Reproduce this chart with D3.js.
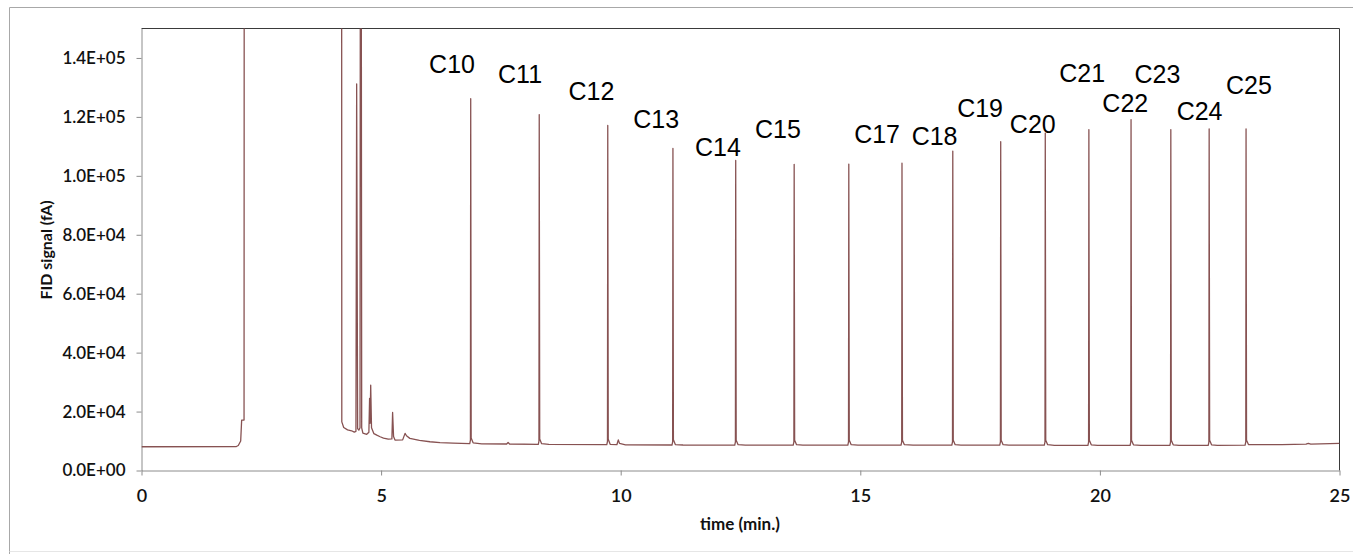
<!DOCTYPE html>
<html>
<head>
<meta charset="utf-8">
<script src="https://cdn.jsdelivr.net/npm/d3@7"></script>
<style>
  html, body { margin: 0; padding: 0; background: #fff; }
  svg { display: block; }
</style>
</head>
<body>
<svg id="chart" width="1353" height="554"></svg>
<script>
// ---------------- data ----------------
const xTicks = [0, 5, 10, 15, 20, 25];
const xTickLabels = ["0", "5", "10", "15", "20", "25"];
const yTicks = [0, 20000, 40000, 60000, 80000, 100000, 120000, 140000];
const yTickLabels = ["0.0E+00", "2.0E+04", "4.0E+04", "6.0E+04", "8.0E+04", "1.0E+05", "1.2E+05", "1.4E+05"];
const xTitle = "time (min.)";
const yTitle = "FID signal (fA)";

// chromatogram trace: [time (min), FID signal (fA)]
const chromatogram = [
  [0.00, 8060], [1.98, 8130], [2.02, 8470], [2.07, 9990], [2.09, 17100], [2.14, 17100], [2.16, 1000000],
  [4.16, 1000000], [4.18, 16500], [4.22, 14600], [4.30, 13800], [4.385, 13480], [4.44, 13040],
  [4.475, 13300], [4.49, 131200], [4.51, 14200], [4.535, 13700], [4.56, 14500], [4.575, 400000], [4.595, 14500],
  [4.62, 12700], [4.70, 12300], [4.745, 13000], [4.76, 24500], [4.77, 16000], [4.783, 29000], [4.80, 14500],
  [4.85, 12500], [4.91, 12000], [4.98, 11450], [5.05, 11000], [5.15, 10670], [5.225, 10700], [5.24, 19700],
  [5.26, 11500], [5.29, 10330], [5.45, 10400], [5.50, 12600], [5.53, 11800], [5.60, 10900], [5.80, 10200],
  [6.02, 9760], [6.23, 9490], [6.50, 9300], [6.85, 9150],
  // C10
  [6.864, 10300], [6.87, 126200], [6.88, 11000], [6.92, 9400], [7.10, 9050],
  [7.62, 9000], [7.65, 9500], [7.68, 9000], [8.28, 8900],
  // C11
  [8.294, 10000], [8.30, 120800], [8.31, 10700], [8.35, 9100], [8.50, 8850], [9.71, 8800],
  // C12
  [9.724, 9900], [9.73, 117100], [9.74, 10600], [9.78, 8900], [9.92, 8750], [9.95, 10400], [9.975, 9200],
  [10.10, 8700], [11.07, 8650],
  // C13
  [11.084, 9750], [11.09, 109300], [11.10, 10400], [11.14, 8800], [11.30, 8650], [12.38, 8600],
  // C14
  [12.394, 9700], [12.40, 105200], [12.41, 10300], [12.45, 8750], [12.60, 8600], [13.60, 8600],
  // C15
  [13.614, 9700], [13.62, 103900], [13.63, 10300], [13.67, 8750], [13.80, 8600], [14.74, 8600],
  // C16
  [14.754, 9700], [14.76, 104000], [14.77, 10300], [14.81, 8750], [14.95, 8600], [15.85, 8600],
  // C17
  [15.864, 9700], [15.87, 104300], [15.88, 10300], [15.92, 8750], [16.10, 8600], [16.91, 8600],
  // C18
  [16.924, 9700], [16.93, 108400], [16.94, 10300], [16.98, 8750], [17.10, 8600], [17.91, 8600],
  // C19
  [17.924, 9700], [17.93, 111600], [17.94, 10300], [17.98, 8750], [18.10, 8600], [18.84, 8600],
  // C20
  [18.854, 9700], [18.86, 114500], [18.87, 10300], [18.91, 8750], [19.05, 8550], [19.75, 8550],
  // C21
  [19.764, 9650], [19.77, 115700], [19.78, 10300], [19.82, 8700], [19.95, 8550], [20.63, 8550],
  // C22
  [20.644, 9650], [20.65, 119100], [20.66, 10300], [20.70, 8700], [20.85, 8550], [21.46, 8550],
  // C23
  [21.474, 9650], [21.48, 115700], [21.49, 10300], [21.53, 8700], [21.65, 8550], [22.26, 8550],
  // C24
  [22.274, 9650], [22.28, 115900], [22.29, 10300], [22.33, 8700], [22.45, 8550], [23.03, 8600],
  // C25
  [23.044, 9700], [23.05, 115900], [23.06, 10300], [23.10, 8800], [23.25, 8750], [23.80, 8800],
  [24.30, 8950], [24.35, 9200], [24.40, 8950], [25.00, 9200]
];

// peak annotations
const peakLabels = ["C10", "C11", "C12", "C13", "C14", "C15", "C17", "C18", "C19", "C20", "C21", "C22", "C23", "C24", "C25"];
const labelTimes = [6.48, 7.90, 9.39, 10.74, 12.03, 13.28, 15.35, 16.55, 17.50, 18.60, 19.63, 20.53, 21.20, 22.08, 23.11];
const labelSignals = [135000, 131600, 125900, 116400, 106900, 113000, 111300, 110300, 119800, 114700, 132000, 121800, 131600, 119100, 127900];

// ---------------- layout ----------------
const svg = d3.select("#chart");
const plot = { left: 141.5, right: 1339.5, top: 28.5, bottom: 470.5 };

const x = d3.scaleLinear().domain([0, 25]).range([plot.left, plot.right]);
const y = d3.scaleLinear().domain([0, 150000]).range([plot.bottom, plot.top]);

// outer chart-area border
svg.append("line").attr("x1", 9.5).attr("x2", 1353).attr("y1", 7.5).attr("y2", 7.5).attr("stroke", "#a8a8a8");
svg.append("line").attr("x1", 9.5).attr("x2", 9.5).attr("y1", 7.5).attr("y2", 554).attr("stroke", "#a8a8a8");
svg.append("line").attr("x1", 9.5).attr("x2", 1353).attr("y1", 551.5).attr("y2", 551.5).attr("stroke", "#e6e6e6");

// plot-area frame (top & right)
svg.append("line").attr("x1", plot.left).attr("x2", plot.right).attr("y1", plot.top).attr("y2", plot.top).attr("stroke", "#3a3a3a");
svg.append("line").attr("x1", plot.right).attr("x2", plot.right).attr("y1", plot.top).attr("y2", plot.bottom).attr("stroke", "#3a3a3a");

// clip
svg.append("defs").append("clipPath").attr("id", "clip")
  .append("rect").attr("x", plot.left).attr("y", plot.top)
  .attr("width", plot.right - plot.left).attr("height", plot.bottom - plot.top);

const tickFont = "Lato, 'Open Sans', sans-serif";

// y axis
const yAxis = svg.append("g").attr("transform", `translate(${plot.left},0)`)
  .call(d3.axisLeft(y).tickValues(yTicks).tickFormat((d, i) => yTickLabels[i]).tickSize(5).tickSizeOuter(0).tickPadding(11));
yAxis.select(".domain").attr("stroke", "#8c8c8c");
yAxis.selectAll(".tick line").attr("stroke", "#8c8c8c");
yAxis.selectAll("text").attr("fill", "#111").style("font-family", tickFont)
  .style("font-size", "17px").style("font-weight", "600");

// x axis
const xAxis = svg.append("g").attr("transform", `translate(0,${plot.bottom})`)
  .call(d3.axisBottom(x).tickValues(xTicks).tickFormat((d, i) => xTickLabels[i]).tickSize(5).tickSizeOuter(0));
xAxis.select(".domain").attr("stroke", "#8c8c8c");
xAxis.selectAll(".tick line").attr("stroke", "#8c8c8c");
xAxis.selectAll("text").attr("y", 31.5).attr("dy", null).attr("fill", "#111")
  .style("font-family", tickFont).style("font-size", "18px").style("font-weight", "600");

// axis titles
svg.append("text").attr("x", 740).attr("y", 530).attr("text-anchor", "middle")
  .style("font-family", tickFont).style("font-weight", "700").style("font-size", "17px").attr("fill", "#111")
  .text(xTitle);
svg.append("text").attr("transform", "translate(52,250) rotate(-90)").attr("text-anchor", "middle")
  .style("font-family", tickFont).style("font-weight", "700").style("font-size", "16px").attr("fill", "#111")
  .text(yTitle);

// trace
const line = d3.line().x(d => x(d[0])).y(d => y(d[1]));
svg.append("path").datum(chromatogram)
  .attr("clip-path", "url(#clip)")
  .attr("fill", "none").attr("stroke", "#875252").attr("stroke-width", 1.3)
  .attr("stroke-linejoin", "round")
  .attr("d", line);

// peak labels
svg.append("g").selectAll("text").data(peakLabels).join("text")
  .attr("x", (d, i) => x(labelTimes[i]))
  .attr("y", (d, i) => y(labelSignals[i]))
  .attr("text-anchor", "middle")
  .style("font-family", "'Liberation Sans', Arial, sans-serif")
  .style("font-size", "25px")
  .attr("fill", "#000")
  .text(d => d);
</script>
</body>
</html>
